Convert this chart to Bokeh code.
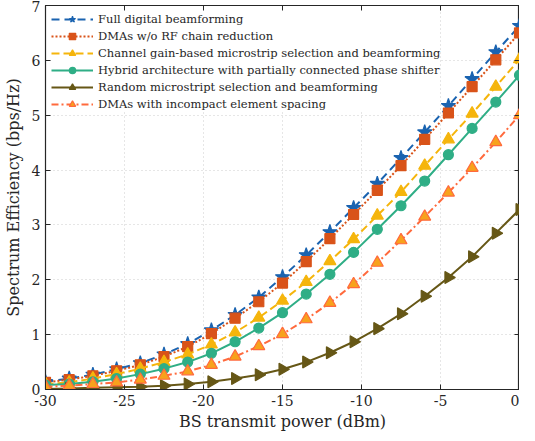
from bokeh.plotting import figure
from bokeh.models import LinearAxis, FixedTicker, Legend, Range1d
from bokeh.embed import file_html
from bokeh.resources import INLINE

power = [-30, -28.5, -27, -25.5, -24, -22.5, -21, -19.5, -18, -16.5, -15,
         -13.5, -12, -10.5, -9, -7.5, -6, -4.5, -3, -1.5, 0]

full_digital = [0.14, 0.2, 0.27, 0.37, 0.48, 0.64, 0.83, 1.08, 1.36, 1.68, 2.05,
                2.45, 2.87, 3.31, 3.75, 4.22, 4.69, 5.17, 5.66, 6.15, 6.63]
dma_no_rf = [0.13, 0.18, 0.25, 0.34, 0.45, 0.6, 0.78, 1.02, 1.3, 1.6, 1.94,
             2.33, 2.75, 3.19, 3.63, 4.08, 4.56, 5.04, 5.52, 6.01, 6.5]
channel_gain = [0.1, 0.13, 0.2, 0.28, 0.38, 0.5, 0.64, 0.82, 1.04, 1.31, 1.62,
                1.96, 2.34, 2.74, 3.17, 3.6, 4.08, 4.56, 5.03, 5.52, 6.02]
hybrid = [0.08, 0.1, 0.14, 0.2, 0.28, 0.38, 0.5, 0.66, 0.87, 1.12, 1.4,
          1.74, 2.1, 2.5, 2.92, 3.35, 3.8, 4.28, 4.76, 5.24, 5.73]
random_sel = [0.01, 0.02, 0.03, 0.04, 0.05, 0.07, 0.1, 0.14, 0.2, 0.27, 0.37,
              0.5, 0.67, 0.87, 1.11, 1.38, 1.7, 2.04, 2.42, 2.85, 3.28]
incompact = [0.05, 0.07, 0.1, 0.13, 0.18, 0.25, 0.33, 0.45, 0.6, 0.79, 1.01,
             1.28, 1.58, 1.92, 2.31, 2.72, 3.15, 3.59, 4.04, 4.51, 5.0]

x_ticks = [-30, -25, -20, -15, -10, -5, 0]
x_tick_labels = ["-30", "-25", "-20", "-15", "-10", "-5", "0"]
y_ticks = [0, 1, 2, 3, 4, 5, 6, 7]

labels = [
    "Full digital beamforming",
    "DMAs w/o RF chain reduction",
    "Channel gain-based microstrip selection and beamforming",
    "Hybrid architecture with partially connected phase shifter",
    "Random microstript selection and beamforming",
    "DMAs with incompact element spacing",
]

FONT = "DejaVu Serif"
INK = "#262626"

p = figure(width=519, height=433, output_backend="svg", toolbar_location=None,
           x_range=Range1d(-30, 0), y_range=Range1d(0, 7),
           min_border_left=35, min_border_right=0, min_border_top=5, min_border_bottom=30)
p.background_fill_color = "white"
p.outline_line_color = INK
p.outline_line_width = 1.2

for ax in (p.xaxis[0], p.yaxis[0]):
    ax.major_tick_in = 5
    ax.major_tick_out = 0
    ax.minor_tick_in = 0
    ax.minor_tick_out = 0
    ax.major_label_text_font = FONT
    ax.major_label_text_font_size = "14px"
    ax.major_label_text_color = INK
    ax.axis_label_text_font = FONT
    ax.axis_label_text_font_size = "16px"
    ax.axis_label_text_font_style = "normal"
    ax.axis_label_text_color = INK
    ax.axis_line_color = INK
    ax.major_tick_line_color = INK

p.xaxis[0].ticker = FixedTicker(ticks=x_ticks)
p.xaxis[0].major_label_overrides = {t: l for t, l in zip(x_ticks, x_tick_labels)}
p.xaxis[0].axis_label = "BS transmit power (dBm)"
p.xaxis[0].axis_label_standoff = 3
p.xaxis[0].major_label_standoff = 5
p.yaxis[0].ticker = FixedTicker(ticks=y_ticks)
p.yaxis[0].axis_label = "Spectrum Efficiency (bps/Hz)"
p.yaxis[0].axis_label_standoff = 6
p.yaxis[0].major_label_standoff = 5

top = LinearAxis(ticker=FixedTicker(ticks=x_ticks),
                 major_label_overrides={t: "" for t in x_ticks},
                 major_label_standoff=0, major_label_text_font_size="2px",
                 major_tick_in=5, major_tick_out=0, minor_tick_in=0, minor_tick_out=0,
                 axis_line_color=INK, major_tick_line_color=INK)
right = LinearAxis(ticker=FixedTicker(ticks=y_ticks),
                   major_label_overrides={t: "" for t in y_ticks},
                   major_label_standoff=0, major_label_text_font_size="2px",
                   major_tick_in=5, major_tick_out=0, minor_tick_in=0, minor_tick_out=0,
                   axis_line_color=INK, major_tick_line_color=INK)
p.add_layout(top, "above")
p.add_layout(right, "right")

p.xgrid.ticker = FixedTicker(ticks=x_ticks)
p.ygrid.ticker = FixedTicker(ticks=y_ticks)
for g in (p.xgrid[0], p.ygrid[0]):
    g.grid_line_color = "#cccccc"
    g.grid_line_dash = "1 3"
    g.grid_line_width = 1

items = []

def add(ydata, color, dash, marker, size, label, fill=None, lw=2, angle=0.0):
    r1 = p.line(power, ydata, line_color=color, line_width=lw, line_dash=dash)
    r2 = p.scatter(power, ydata, marker=marker, size=size, line_color=color,
                   fill_color=fill if fill else color, line_width=1.2, angle=angle)
    items.append((label, [r1, r2]))

add(full_digital, "#1a63b0", "8 5", "star", 15, labels[0])
add(dma_no_rf, "#d95319", "2 2", "square", 10, labels[1])
add(channel_gain, "#f5b50c", "8 4", "triangle", 12, labels[2])
add(hybrid, "#2fae86", "solid", "circle", 10, labels[3])
add(random_sel, "#665716", "solid", "triangle", 12, labels[4], angle=-1.5708)
add(incompact, "#ff6a3d", "7 3 2 3", "triangle", 12, labels[5], fill="#f7a21c")

legend = Legend(items=items, location="top_left")
legend.label_text_font = FONT
legend.label_text_font_size = "11.5px"
legend.label_text_color = INK
legend.glyph_width = 42
legend.glyph_height = 16
legend.label_height = 16
legend.spacing = 1
legend.padding = 4
legend.margin = 6
legend.label_standoff = 5
legend.border_line_color = None
legend.background_fill_color = "white"
legend.background_fill_alpha = 1
p.add_layout(legend, "center")

open("out.html", "w").write(file_html(p, INLINE))
